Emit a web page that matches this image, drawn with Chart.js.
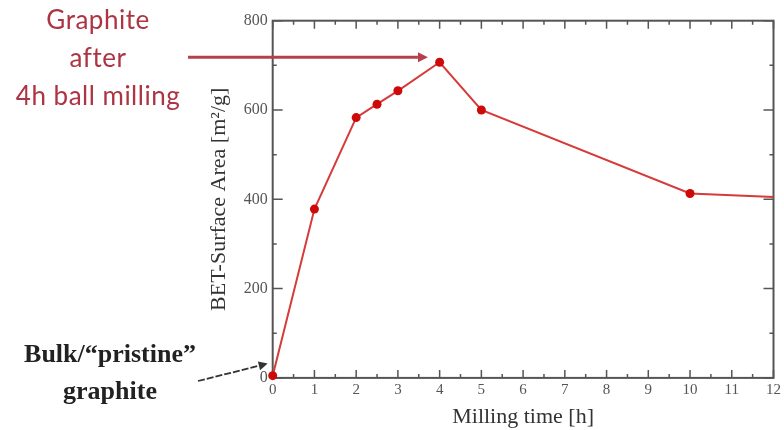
<!DOCTYPE html>
<html>
<head>
<meta charset="utf-8">
<script src="https://cdn.jsdelivr.net/npm/chart.js@4.4.0/dist/chart.umd.min.js"></script>
<style>
  html, body { margin: 0; padding: 0; background: #fff; }
</style>
</head>
<body>
<canvas id="myChart" width="784" height="430"></canvas>
<script>
// milling time (h) vs BET surface area (m²/g)
const millingTime = [0, 1, 2, 2.5, 3, 4, 5, 10, 12];
const surfaceArea = [5, 378, 583, 613, 643, 707, 600, 413, 405];
const xTicks = [0, 1, 2, 3, 4, 5, 6, 7, 8, 9, 10, 11, 12];
const yTicks = [0, 200, 400, 600, 800];

const serif = '"Liberation Serif", "Times New Roman", serif';

// frame box + inward ticks on all four sides
const frame = {
    id: 'frame',
    beforeDatasetsDraw(chart) {
        const { ctx, chartArea: a, scales: { x, y } } = chart;
        ctx.save();
        ctx.strokeStyle = '#555';
        ctx.lineWidth = 2;
        ctx.strokeRect(a.left, a.top, a.right - a.left, a.bottom - a.top);
        ctx.lineWidth = 1.5;
        ctx.beginPath();
        for (let v = 0; v <= 12; v += 0.5) {
            const px = x.getPixelForValue(v);
            const len = v % 1 === 0 ? 8 : 4;
            ctx.moveTo(px, a.bottom); ctx.lineTo(px, a.bottom - len);
            ctx.moveTo(px, a.top); ctx.lineTo(px, a.top + len);
        }
        for (let v = 0; v <= 800; v += 100) {
            const py = y.getPixelForValue(v);
            const len = v % 200 === 0 ? 10 : 4;
            ctx.moveTo(a.left, py); ctx.lineTo(a.left + len, py);
            ctx.moveTo(a.right, py); ctx.lineTo(a.right - len, py);
        }
        ctx.stroke();
        ctx.restore();
    }
};

function arrow(ctx, x1, y1, x2, y2, color, width, head) {
    const ang = Math.atan2(y2 - y1, x2 - x1);
    ctx.strokeStyle = color;
    ctx.fillStyle = color;
    ctx.lineWidth = width;
    ctx.beginPath();
    ctx.moveTo(x1, y1);
    ctx.lineTo(x2 - head * Math.cos(ang), y2 - head * Math.sin(ang));
    ctx.stroke();
    ctx.setLineDash([]);
    ctx.beginPath();
    ctx.moveTo(x2, y2);
    ctx.lineTo(x2 - head * Math.cos(ang) + head * 0.5 * Math.sin(ang), y2 - head * Math.sin(ang) - head * 0.5 * Math.cos(ang));
    ctx.lineTo(x2 - head * Math.cos(ang) - head * 0.5 * Math.sin(ang), y2 - head * Math.sin(ang) + head * 0.5 * Math.cos(ang));
    ctx.closePath();
    ctx.fill();
}

// text callouts on the left
const notes = {
    id: 'notes',
    afterDraw(chart) {
        const { ctx, scales: { x, y } } = chart;
        ctx.save();
        ctx.textAlign = 'center';
        ctx.textBaseline = 'middle';

        ctx.fillStyle = '#ad3443';
        ctx.font = '26px Lato';
        ctx.letterSpacing = '0.5px';
        ctx.fillText('Graphite', 98, 21);
        ctx.fillText('after', 98, 59);
        ctx.fillText('4h ball milling', 98, 97);
        ctx.letterSpacing = '0px';
        arrow(ctx, 188, y.getPixelForValue(718), x.getPixelForValue(3.72), y.getPixelForValue(718), '#b5404c', 3, 10);

        ctx.fillStyle = '#222';
        ctx.font = 'bold 26px ' + serif;
        ctx.fillText('Bulk/\u201Cpristine\u201D', 110, 355);
        ctx.fillText('graphite', 110, 392);
        ctx.setLineDash([7, 2]);
        arrow(ctx, 198, 381, x.getPixelForValue(0) - 5, y.getPixelForValue(32), '#333', 1.8, 9);
        ctx.restore();
    }
};

const ctx = document.getElementById('myChart').getContext('2d');
let chart = new Chart(ctx, {
    type: 'line',
    data: {
        datasets: [{
            label: 'BET-Surface Area',
            data: millingTime.map((t, i) => ({ x: t, y: surfaceArea[i] })),
            borderColor: '#d63a3a',
            borderWidth: 2,
            pointBackgroundColor: '#cc0a0a',
            pointBorderWidth: 0,
            pointRadius: millingTime.map(t => t === 12 ? 0 : 4.5),
            tension: 0,
            clip: false
        }]
    },
    options: {
        responsive: false,
        animation: false,
        layout: { padding: { left: 200, right: 8, top: 20.7, bottom: 0 } },
        plugins: { legend: { display: false }, tooltip: { enabled: false } },
        scales: {
            x: {
                type: 'linear',
                min: 0,
                max: 12,
                afterBuildTicks: s => { s.ticks = xTicks.map(v => ({ value: v })); },
                afterFit: s => { s.height = 52.1; },
                grid: { display: false, drawTicks: false },
                border: { display: false },
                ticks: { color: '#555', padding: 3, maxRotation: 0, autoSkip: false, font: { family: serif, size: 15 } },
                title: { display: true, text: 'Milling time [h]', color: '#333', padding: 0, font: { family: serif, size: 22 } }
            },
            y: {
                min: 0,
                max: 800,
                afterBuildTicks: s => { s.ticks = yTicks.map(v => ({ value: v })); },
                afterFit: s => { s.width = 72.7; },
                grid: { display: false, drawTicks: false },
                border: { display: false },
                ticks: { color: '#555', padding: 5, font: { family: serif, size: 16 } },
                title: { display: true, text: 'BET-Surface Area [m\u00B2/g]', color: '#333', padding: { top: 6 }, font: { family: serif, size: 22 } }
            }
        }
    },
    plugins: [frame, notes]
});
</script>
</body>
</html>
